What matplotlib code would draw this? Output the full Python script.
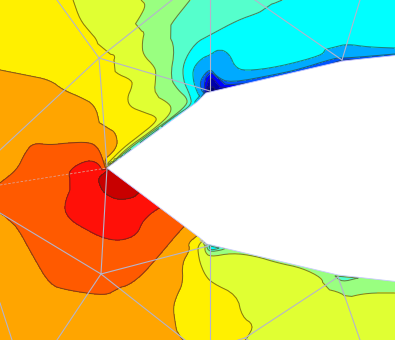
import numpy as np
import matplotlib
matplotlib.use('Agg')
import matplotlib.pyplot as plt
import matplotlib.tri as mtri

# band boundaries, pixel positions, a list of curves per level
c13 = [[(107,171),(98,178),(100,186),(104,193),(117,200),(133,198),(138,193),(150,186)]]
c12 = [[(102,170),(98,163),(88,160),(73,167),(68,175),(73,183),(63,207),(70,220),(87,230),(103,238),(120,241),(137,235),(143,220),(158,208),(172,203)]]
c11 = [[(0,183),(17,170),(25,153),(33,143),(50,145),(67,143),(90,142),(98,148),(102,157),(105,167)],
       [(0,187),(10,186),(16,190),(16,198),(8,203),(0,205)],
       [(0,213),(15,223),(33,256),(50,285),(67,290),(100,295),(112,293),(115,287),(125,287),(140,277),(157,258),(183,227),(190,222)]]
c10 = [[(0,70),(25,75),(50,80),(63,90),(80,97),(95,105),(100,125),(102,147),(103,157),(106,165)],
       [(103,134),(107,133),(112,129),(117,137),(117,147),(108,157),(104,158)],
       [(198,235),(188,243),(190,250),(182,263),(183,283),(177,295),(173,307),(175,322),(177,333),(183,340)]]
c9 = [[(73,0),(80,20),(90,32),(97,40),(99,50),(99,57),(108,54),(115,55),(114,61),(110,63),(115,73),(132,80),(132,87),(127,98),(130,107),(143,112),(157,117),(155,123),(140,135),(123,148),(108,163)],
      [(203,240),(198,246),(198,252),(200,263),(205,275),(212,283),(237,295),(242,317),(254,325),(247,338),(245,340)]]
c8 = [[(141,0),(146,5),(140,17),(128,35),(145,29),(142,43),(143,55),(155,67),(156,75),(154,95),(167,102),(172,108),(168,117),(150,132),(127,148),(110,165)],
      [(205,246),(205,252),(210,257),(232,253),(255,256),(278,263),(302,268),(322,278),(323,285),(322,288),(342,293),(348,300),(348,297),(368,293),(395,293)]]
c7 = [[(190,0),(170,25),(168,33),(175,48),(170,78),(178,90),(187,98),(187,105),(170,119),(153,131),(130,148),(112,163)],
      [(206,245),(209,252),(222,250),(226,248)],
      [(335,276),(342,282),(358,278)]]
c6 = [[(282,0),(270,5),(261,3),(263,10),(258,13),(238,20),(210,35),(195,43),(183,63),(183,80),(190,95),(192,105),(175,116),(157,130),(130,150),(110,165)]]
c5 = [[(395,48),(368,47),(347,44),(335,47),(323,50),(323,55),(278,67),(245,71),(235,67),(230,55),(223,50),(217,50),(210,55),(202,58),(193,68),(193,80),(197,92),(200,97)]]
c4 = [[(395,54),(360,57),(344,58),(335,58),(300,69),(278,74),(230,83),(217,77),(210,68),(200,80),(201,90),(204,93)]]
c3 = [[(211,72),(205,78),(204,92)],[(211,72),(225,84)]]
c2 = [[(211,76),(207,84),(206,92)],[(211,76),(220,87)]]
c1 = [[(211,81),(208,90)],[(211,81),(215,90)]]

# samples inside the bands
seed_x = [0,30,60,0,85,120,210,200,193,
          30,70,0,0,0,60,120,150,165,111,
          40,40,100,150,80,
          90,120,115,112,125,140,155,175,190,
          100,110,130,140,160,260,300,395,300,350,
          160,155,178,145,385,340,
          220,200,180,
          395,300,300,220,188,
          215,260,330,395,
          395,370,345,320,280,250,230,215,210,
          125,150,175,197,
          212,343,260,300,375]
seed_y = [0,30,0,40,70,115,320,300,244,
          110,120,120,280,340,320,320,300,280,143,
          190,230,265,235,150,
          190,225,185,168,178,188,199,214,225,
          0,30,60,95,110,300,300,340,340,320,
          0,40,102,22,285,285,
          0,25,50,
          0,0,40,40,78,
          65,72,52,51,
          56,59,61,67,77,83,88,91,92,
          156,138,120,103,
          248,278,254,262,278]
seed_v = [9.5,9.5,9.5,9.5,9.5,9.5,9.5,9.5,9.5,
          10.5,10.5,10.5,10.5,10.5,10.5,10.5,10.5,10.5,10.5,
          11.5,11.5,11.5,11.5,11.5,
          12.5,12.5,13.5,13.5,13.5,13.5,12.5,11.5,10.5,
          8.5,8.5,8.5,8.5,8.5,8.5,8.5,8.5,8.5,8.5,
          7.5,7.5,7.5,7.5,7.5,7.5,
          6.5,6.5,6.5,
          5.5,5.5,5.5,5.5,5.5,
          4.5,4.5,4.5,4.5,
          3.5,3.3,2.5,3.2,3.2,3,2,0.5,0,
          5.5,5.5,5.5,4.5,
          5,6,7.5,7.5,7.5]

# hole in the domain
hole_x = [400,343,210,206,197,107,200,207,338,400]
hole_y = [55,61,92,93,102,168,238,244,275,282]

# mesh edges: x0, y0, x1, y1
mesh_edges = [(57,0,99,58),(172,0,99,58),(0,150,99,58),(99,58,107,166),(99,58,210,91),
              (210,0,210,91),(255,0,342,60),(360,0,342,60),
              (107,168,101,274),(0,213,101,274),(101,274,208,246),(101,274,57,340),(101,274,185,340),
              (0,303,12,340),(210,246,210,340),(200,240,208,246),
              (338,277,245,338),(245,338,248,340),(245,338,238,340),(338,277,360,340)]
faint_edges = [(0,185,107,168)]

band_colors = ['#00006e','#0000a8','#0000ff','#0055ff','#00aaff','#00ffff','#55ffcc','#99ff80',
               '#e0ff33','#fff000','#ffa500','#ff5a00','#ff1008','#c80000']

def smooth(c):
    # corner cutting so the traced curves come out round, then close spacing
    p = np.array(c, dtype=float)
    for _ in range(2):
        if len(p) < 3:
            break
        q = [p[0]]
        for a, b in zip(p[:-1], p[1:]):
            q.append(0.75 * a + 0.25 * b)
            q.append(0.25 * a + 0.75 * b)
        q.append(p[-1])
        p = np.array(q)
    out = [p[0]]
    for a, b in zip(p[:-1], p[1:]):
        n = max(1, int(np.hypot(*(b - a)) / 2.5))
        for k in range(1, n + 1):
            out.append(a + (b - a) * k / n)
    return np.array(out)

contours = [c1,c2,c3,c4,c5,c6,c7,c8,c9,c10,c11,c12,c13]
xs = list(seed_x)
ys = list(seed_y)
vs = list(seed_v)
for lev, curves in enumerate(contours, start=1):
    for c in curves:
        p = smooth(c)
        xs.extend(p[:, 0])
        ys.extend(p[:, 1])
        vs.extend([lev] * len(p))
pts = np.round(np.column_stack([xs, ys, vs]), 2)
_, idx = np.unique(pts[:, :2], axis=0, return_index=True)
pts = pts[np.sort(idx)]

fig = plt.figure(figsize=(3.95, 3.4), dpi=100)
ax = fig.add_axes([0, 0, 1, 1])
tr = mtri.Triangulation(pts[:, 0], pts[:, 1])
levels = np.arange(0, 15) - 0.001
ax.tricontourf(tr, pts[:, 2], levels=levels, colors=band_colors)
ax.tricontour(tr, pts[:, 2], levels=levels[1:-1], colors='#303020', linewidths=0.75, alpha=0.6)
ax.fill(hole_x, hole_y, facecolor='white', edgecolor='#c8c8ff', linewidth=0.6, zorder=3)
for e in mesh_edges:
    ax.plot([e[0], e[2]], [e[1], e[3]], color='#b4b4cc', lw=0.8, zorder=4)
for e in faint_edges:
    ax.plot([e[0], e[2]], [e[1], e[3]], color='#e0a090', lw=0.6, ls=(0, (3, 2)), zorder=4)
ax.set_xlim(0, 395)
ax.set_ylim(340, 0)
ax.axis('off')
fig.savefig('out.png', dpi=100)
